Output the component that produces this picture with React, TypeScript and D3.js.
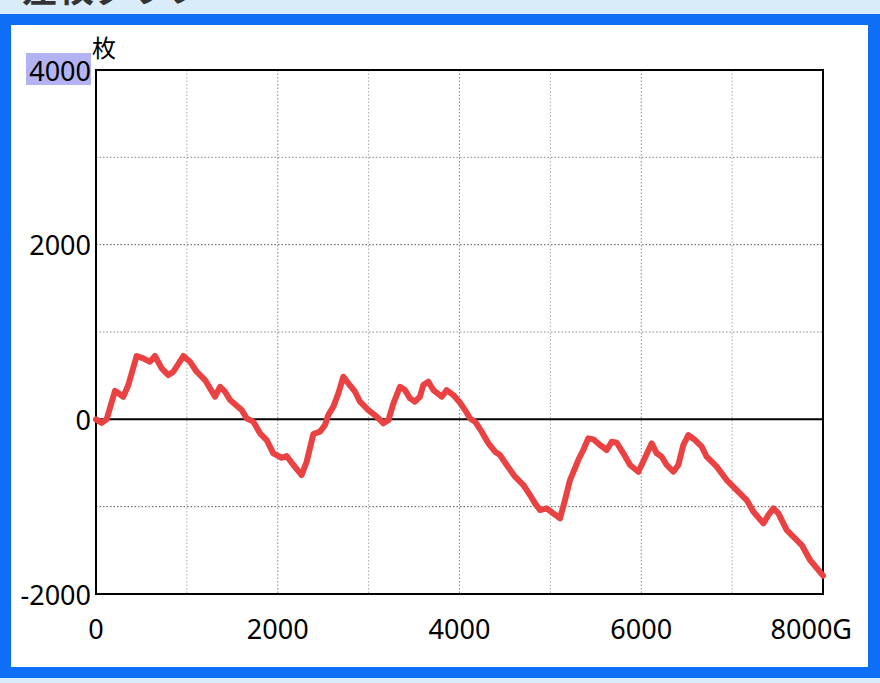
import React from "react";
import * as d3 from "d3";

const games = [0,63,117,209,300,356,447,520,594,649,723,796,851,961,1034,1108,1200,1310,1365,1420,1475,1603,1658,1731,1805,1878,1951,2043,2098,2172,2263,2318,2392,2465,2520,2556,2612,2667,2722,2777,2850,2905,2997,3089,3162,3218,3273,3345,3400,3455,3510,3565,3602,3657,3712,3804,3859,3932,4006,4061,4116,4171,4244,4318,4391,4446,4519,4611,4703,4776,4831,4886,4959,5032,5106,5161,5216,5307,5362,5417,5473,5546,5620,5675,5730,5803,5877,5968,6041,6115,6170,6225,6280,6353,6408,6463,6518,6592,6665,6720,6830,6940,7050,7160,7234,7344,7399,7454,7509,7601,7766,7857,8000];
const coins = [0,-40,0,327,259,393,725,698,660,725,584,507,545,725,660,545,450,259,373,316,221,106,11,-27,-160,-237,-390,-440,-420,-523,-638,-485,-168,-141,-65,49,145,298,488,412,316,202,106,30,-46,-8,183,373,335,240,202,259,393,431,335,259,335,278,190,106,10,-27,-141,-275,-371,-409,-523,-657,-752,-867,-962,-1039,-1019,-1076,-1134,-924,-695,-466,-351,-218,-229,-294,-351,-256,-268,-389,-523,-600,-440,-275,-389,-428,-523,-600,-523,-294,-180,-237,-313,-428,-542,-695,-810,-924,-1058,-1191,-1096,-1019,-1076,-1268,-1439,-1611,-1790];

const xTicks = [0, 2000, 4000, 6000, 8000];
const xTickLabels = ["0", "2000", "4000", "6000", "8000G"];
const yTicks = [4000, 2000, 0, -2000];
const yTickLabels = ["4000", "2000", "0", "-2000"];
const xGrid = [1000, 2000, 3000, 4000, 5000, 6000, 7000];
const yGrid = [3000, 2000, 1000, -1000];
const title = "差枚グラフ";
const unitLabel = "枚";

export default function App() {
  const W = 880, H = 683;
  const L = 96, R = 823, T = 70, B = 594;
  const x = d3.scaleLinear().domain([0, 8000]).range([L, R]);
  const y = d3.scaleLinear().domain([-2000, 4000]).range([B, T]);
  const pts = games.map((g, i) => [g, coins[i]] as [number, number]);
  const line = d3.line<[number, number]>().x(d => x(d[0])).y(d => y(d[1]));
  const font = "'Noto Sans', 'DejaVu Sans', sans-serif";
  return (
    <svg width={W} height={H} style={{ position: "absolute", left: 0, top: 0, display: "block" }}>
      <rect x={0} y={0} width={W} height={H} fill="#d9ecf9" />
      <text x={22} y={2} fontSize={36} fontWeight="bold" fill="#333" fontFamily="'Noto Sans CJK JP', sans-serif">{title}</text>
      <rect x={0} y={14} width={W} height={664} fill="#0f6ef6" />
      <rect x={11} y={25} width={857} height={642} fill="#ffffff" />
      {xGrid.map(v => (
        <line key={"xg" + v} x1={x(v)} x2={x(v)} y1={T} y2={B}
          stroke={v % 2000 === 0 ? "#888" : "#aaa"} strokeWidth={1} strokeDasharray="1.5,2" />
      ))}
      {yGrid.map(v => (
        <line key={"yg" + v} x1={L} x2={R} y1={y(v)} y2={y(v)}
          stroke={v === 2000 || v === -1000 ? "#555" : "#888"} strokeWidth={1} strokeDasharray="1.5,2" />
      ))}
      <line x1={L} x2={R} y1={y(0)} y2={y(0)} stroke="#000" strokeWidth={2} />
      <rect x={L} y={T} width={R - L} height={B - T} fill="none" stroke="#000" strokeWidth={2} />
      <path d={line(pts) || ""} fill="none" stroke="#ea4242" strokeWidth={6} strokeLinejoin="round" strokeLinecap="round" />
      <rect x={26} y={y(4000) - 17} width={65} height={32} fill="#b3b3f3" />
      {yTicks.map((v, i) => (
        <text key={"yt" + v} x={L - 5} y={y(v)} textAnchor="end" dominantBaseline="central"
          fontSize={27} fontFamily={font} fill="#000">{yTickLabels[i]}</text>
      ))}
      {xTicks.map((v, i) => (
        <text key={"xt" + v} x={i === xTicks.length - 1 ? x(v) + 29 : x(v)} y={639}
          textAnchor={i === xTicks.length - 1 ? "end" : "middle"}
          fontSize={27} fontFamily={font} fill="#000">{xTickLabels[i]}</text>
      ))}
      <text x={92} y={57} fontSize={24} fontFamily="'Noto Sans CJK JP', sans-serif" fill="#000">{unitLabel}</text>
    </svg>
  );
}
